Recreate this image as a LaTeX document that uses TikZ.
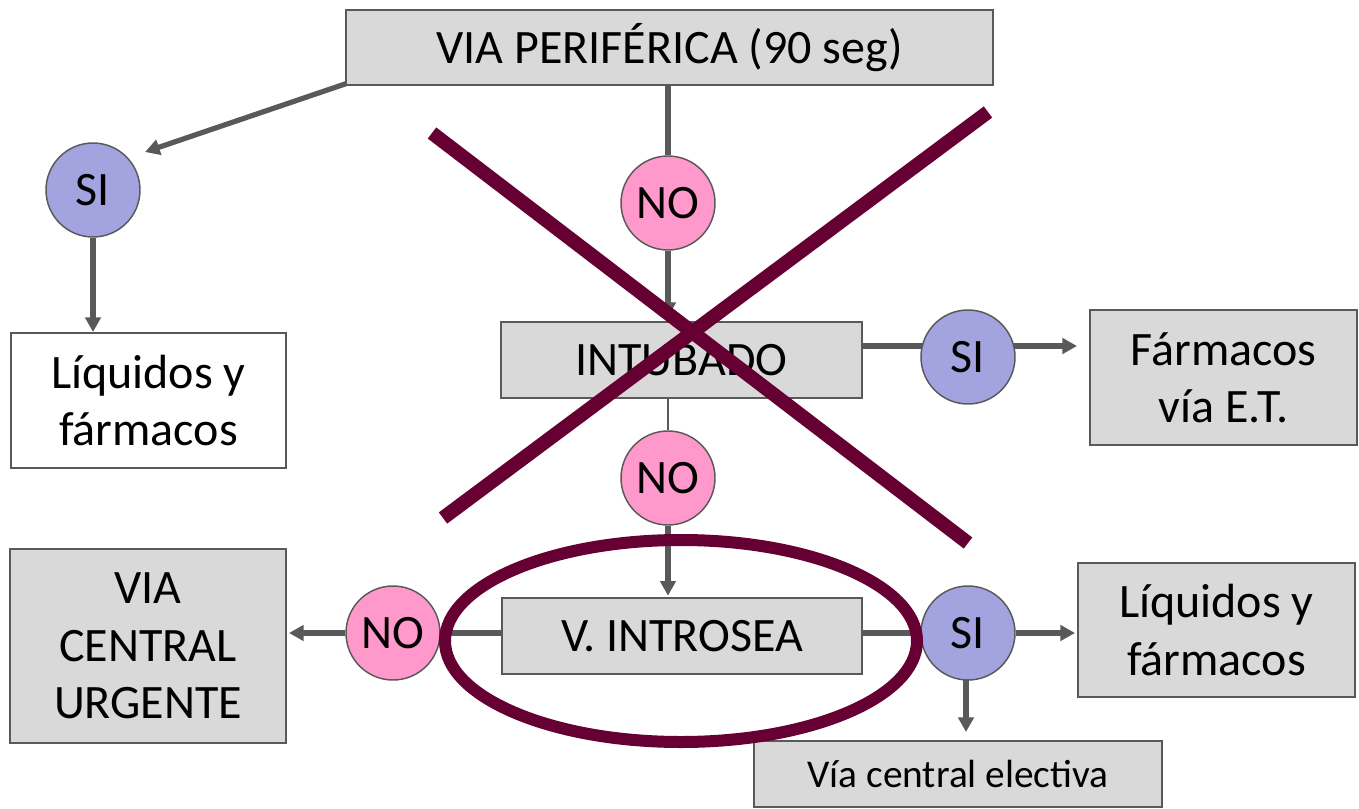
\documentclass[tikz,border=0pt]{standalone}
\usepackage{fontspec}
\setmainfont{Carlito}
\usetikzlibrary{arrows.meta,calc,backgrounds}

\definecolor{boxgray}{HTML}{D9D9D9}
\definecolor{edgegray}{HTML}{595959}
\definecolor{silav}{HTML}{A3A3DF}
\definecolor{nopink}{HTML}{FF99CC}
\definecolor{crossred}{HTML}{660033}

\newcommand\bigtxt{\fontsize{36}{43}\selectfont}
\newcommand\smalltxt{\fontsize{29.5}{34}\selectfont}

\tikzset{
  box/.style={draw=edgegray, line width=1.5pt, fill=boxgray, align=center,
              inner sep=0pt, font=\bigtxt},
  decision/.style={circle, draw=edgegray, line width=1.1pt, minimum size=70.5pt,
                   inner sep=0pt, font=\bigtxt},
  yes/.style={decision, fill=silav},
  no/.style={decision, fill=nopink},
  conn/.style={draw=edgegray, line width=3.9pt},
  thinconn/.style={draw=edgegray, line width=1.2pt},
  arr/.style={-{Triangle[length=11pt,width=11.5pt]}},
  crossline/.style={draw=crossred, line width=10.5pt},
  ring/.style={draw=crossred, line width=9pt}
}

\begin{document}
\begin{tikzpicture}[x=0.75pt, y=-0.75pt]
\useasboundingbox (0,0) rectangle (1359,809);

% boxes
\node[box, minimum width=485.25pt, minimum height=56.25pt] (top) at (669.5,47.5) {VIA PERIFÉRICA (90 seg)};
\node[box, fill=white, minimum width=206.25pt, minimum height=101.25pt] (liqL) at (148.5,400.5) {Líquidos y\\fármacos};
\node[box, minimum width=270.75pt, minimum height=57pt] (intub) at (681.5,360) {INTUBADO};
\node[box, minimum width=200.25pt, minimum height=101.25pt] (fET) at (1223.5,377.5) {Fármacos\\vía E.T.};
\node[box, minimum width=270pt, minimum height=57pt] (introsea) at (682,636) {V. INTROSEA};
\node[box, minimum width=207pt, minimum height=145.5pt] (urg) at (148,646) {VIA\\CENTRAL\\URGENTE};
\node[box, minimum width=207.75pt, minimum height=100.5pt] (liqR) at (1216.5,630) {Líquidos y\\fármacos};
\node[box, font=\smalltxt, minimum width=306pt, minimum height=49.5pt] (elect) at (958,774) {Vía central electiva};

% decisions
\node[yes] (SI1) at (93,190) {SI};
\node[no]  (NO1) at (668,203) {NO};
\node[yes] (SI2) at (968,357) {SI};
\node[no]  (NO2) at (668,478) {NO};
\node[no]  (NO3) at (393,633) {NO};
\node[yes] (SI3) at (968,633) {SI};

\coordinate (SI1in) at (145,152);

% connectors
\begin{scope}[on background layer]
  \draw[conn, arr] ($(top.south west)+(3,-3)$) -- (SI1in);
  \draw[conn] (NO1 |- top.south) -- (NO1);
  \draw[conn, arr, shorten >=3pt] (NO1) -- (NO1 |- intub.north);
  \draw[conn, arr] (SI1) -- (SI1 |- liqL.north);
  \draw[conn] ($(intub.east)+(0,-14)$) -- ($(SI2.center)+(0,-11)$);
  \draw[conn, arr, shorten >=9pt] ($(SI2.center)+(0,-11)$) -- ($(SI2.center -| fET.west)+(0,-11)$);
  \draw[thinconn] (NO2 |- intub.south) -- (NO2);
  \draw[conn, arr, shorten >=1pt] (NO2) -- (NO2 |- introsea.north);
  \draw[conn] (NO3) -- (NO3 -| introsea.west);
  \draw[conn] (SI3 -| introsea.east) -- (SI3);
  \draw[conn, arr, shorten >=1.5pt] (NO3) -- (NO3 -| urg.east);
  \draw[conn, arr, shorten >=1.5pt] (SI3) -- (SI3 -| liqR.west);
  \draw[conn, arr, shorten >=6pt] ($(SI3.center)+(-2,0)$) -- ($(SI3.center |- elect.north)+(-2,0)$);
\end{scope}

% crossing-out mark and highlight ring
\draw[crossline] (432,133) -- (968,543);
\draw[crossline] (988,112) -- (443,518);
\draw[ring] (681,641) ellipse [x radius=236, y radius=101];
\end{tikzpicture}
\end{document}
